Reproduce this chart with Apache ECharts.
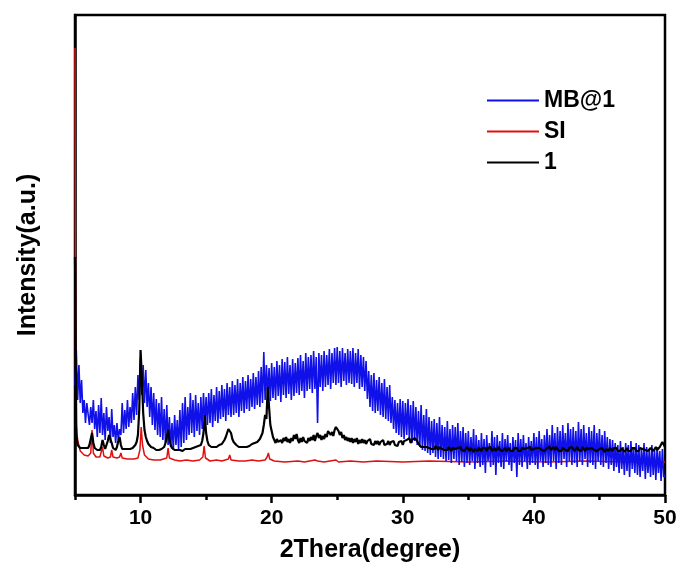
<!DOCTYPE html>
<html>
<head>
<meta charset="utf-8">
<script src="https://cdn.jsdelivr.net/npm/echarts@6/dist/echarts.min.js"></script>
<style>html,body{margin:0;padding:0;background:#fff}#c{width:681px;height:583px}</style>
</head>
<body>
<div id="c"></div>
<script>
// 2Theta sampling for MB@1 and 1: start 5.0, step 0.1 (deg)
const scanStart = 5.0;
const scanStep = 0.1;
const xTickLabels = [10, 20, 30, 40, 50];
const xMinorTicks = [5, 15, 25, 35, 45];
const seriesNames = ['MB@1', 'SI', '1'];

// MB@1 intensity (a.u.)
const mb1Y = [
110,145,95,130,92,115,82,95,72,92,
92,70,88,72,95,66,84,58,90,62,
97,60,82,55,88,64,78,52,86,58,
70,52,72,55,66,60,92,62,85,66,
95,68,88,72,102,75,108,80,120,95,
137,100,130,92,125,88,112,78,108,70,
102,65,96,60,92,58,98,55,86,52,
90,50,78,48,72,45,80,50,75,46,
85,48,92,52,98,55,88,60,102,62,
95,58,100,64,92,60,98,66,102,70,
98,70,102,72,106,68,100,74,108,72,
104,76,110,78,106,74,112,80,108,78,
114,80,110,82,116,78,112,84,118,82,
114,86,120,84,116,88,122,86,118,90,
124,88,128,92,143,95,130,98,127,94,
132,97,128,95,134,99,130,93,136,100,
133,97,138,101,130,95,136,99,132,102,
137,100,140,104,134,97,142,104,138,106,
140,102,144,106,138,72,142,108,140,104,
144,108,140,110,146,106,142,112,147,110,
148,112,144,108,147,114,142,110,146,112,
144,111,147,108,142,112,146,106,140,108,
138,104,134,96,124,88,120,84,122,82,
115,84,118,80,112,78,116,76,108,74,
110,72,98,66,95,62,92,60,96,58,
94,56,92,60,96,55,90,52,94,54,
88,50,84,48,90,45,80,44,86,42,
78,40,74,42,76,38,72,36,78,38,
70,36,68,34,74,35,66,32,70,36,
68,34,72,30,64,33,68,28,62,32,
64,30,58,34,66,26,60,32,55,28,
62,30,56,22,60,34,52,28,64,30,
58,20,60,32,54,28,62,26,56,34,
60,30,52,24,58,32,55,18,62,30,
56,28,60,34,52,26,58,30,54,32,
62,30,58,26,64,34,56,28,60,32,
66,30,60,28,70,34,62,26,68,32,
64,30,70,36,62,28,72,34,66,30,
68,32,64,28,73,34,66,30,70,36,
62,28,68,32,64,30,70,26,62,34,
66,30,60,28,64,32,58,26,56,30,
55,24,52,28,50,22,54,26,48,20,
52,24,50,18,54,26,48,22,52,20,
50,18,46,24,52,16,48,22,45,18,
50,20,46,15,48,22,44,14,46,18,
20
];

// "1" intensity (a.u.)
const c1Y = [
238,60,50,48,47,46,47,46,47,46,
47,50,56,62,52,47,46,45,46,45,
48,55,50,46,47,54,60,62,52,47,
46,45,48,54,58,50,46,45,46,45,
46,47,46,48,47,49,50,53,60,85,
145,118,82,65,58,54,51,50,48,47,
47,46,45,46,45,44,46,45,48,52,
58,65,56,50,47,46,45,44,45,44,
45,46,44,45,46,45,46,47,46,48,
47,46,48,47,49,48,50,54,62,80,
62,54,50,49,48,47,48,49,48,49,
50,49,51,52,55,58,62,66,68,62,
56,53,51,50,49,48,49,48,49,48,
49,48,50,49,50,51,50,52,51,53,
54,56,58,62,70,80,76,108,88,70,
64,58,55,52,56,53,51,55,52,57,
54,58,53,56,52,57,54,60,56,61,
55,52,57,53,58,54,56,52,57,54,
58,55,60,54,59,62,57,60,55,59,
56,61,58,64,66,60,63,59,65,68,
69,64,60,63,57,60,55,58,54,57,
53,57,52,56,53,57,51,55,52,56,
52,55,51,54,52,56,51,53,50,54,
51,54,50,53,51,55,50,52,51,54,
50,53,51,54,50,52,49,53,51,54,
50,54,52,55,53,57,52,55,53,57,
56,54,51,49,48,47,48,47,48,47,
47,49,46,48,46,49,47,45,48,46,
46,48,45,47,45,48,46,44,47,45,
46,44,47,45,48,45,47,44,46,48,
46,44,47,45,43,46,47,44,47,45,
44,47,45,47,44,47,45,48,44,46,
47,44,46,48,45,47,44,46,47,44,
45,47,44,46,44,47,45,47,44,46,
44,47,45,46,44,47,45,48,45,47,
46,44,47,45,47,48,45,47,44,46,
47,45,48,45,47,48,45,48,46,44,
46,44,47,48,45,47,44,47,45,48,
47,44,46,48,45,47,44,48,46,44,
47,45,46,44,47,48,45,47,44,46,
46,44,47,45,43,46,47,44,47,45,
44,47,45,47,44,46,44,47,45,43,
45,47,44,46,44,47,45,47,44,46,
44,47,45,46,48,45,47,44,46,47,
47,44,46,48,45,47,48,50,53,51,
48
];

// SI (simulated) 2Theta and intensity (a.u.)
const siX = [5.0,5.05,5.1,5.2,5.4,5.7,6.0,6.2,6.3,6.4,6.6,6.9,7.0,7.1,7.2,7.5,7.7,7.8,7.9,8.2,8.4,8.5,8.6,9.0,9.5,9.8,9.95,10.05,10.15,10.3,10.6,11.0,11.5,12.0,12.1,12.2,12.6,13.0,13.5,14.0,14.5,14.75,14.85,14.95,15.3,15.8,16.2,16.7,16.8,16.9,17.5,18.0,18.5,19.0,19.5,19.65,19.75,19.85,20.2,21.0,22.0,22.5,23.3,23.5,24.0,24.9,25.1,26.0,27.0,28.0,30.0,32.0,35.0,38.0,41.0,44.0,47.0,50.0];
const siY = [447,120,70,55,44,40,39,42,65,42,38,38,40,48,39,37,38,45,38,37,38,42,37,36,36,37,45,68,50,40,36,35,35,37,47,37,35,34,35,34,35,38,49,37,34,35,34,36,40,35,34,34,35,34,35,38,42,36,34,33,34,33,35,34,33,35,33,34,33,34,33,34,33,34,33,34,33,33];

const toPairs = ys => ys.map((v, i) => [+(scanStart + i * scanStep).toFixed(2), v]);
const mb1Data = toPairs(mb1Y);
const c1Data = toPairs(c1Y);
const siData = siX.map((x, i) => [x, siY[i]]);

const FONT = "'Liberation Sans', Arial, sans-serif";
const chart = echarts.init(document.getElementById('c'), null, {renderer: 'canvas'});
chart.setOption({
  animation: false,
  backgroundColor: '#ffffff',
  grid: {left: 75, right: 16, top: 15, bottom: 88, show: true, borderColor: '#000', borderWidth: 2.5, backgroundColor: 'transparent'},
  legend: {
    orient: 'vertical', left: 482, top: 84, itemGap: 8, itemWidth: 52, itemHeight: 2,
    icon: 'rect',
    data: seriesNames,
    textStyle: {fontFamily: FONT, fontWeight: 'bold', fontSize: 23, color: '#000'}
  },
  xAxis: [{
    type: 'value', min: 5, max: 50,
    name: '2Thera(degree)', nameLocation: 'middle', nameGap: 43,
    nameTextStyle: {fontFamily: FONT, fontWeight: 'bold', fontSize: 25, color: '#000'},
    axisLine: {show: true, onZero: false, lineStyle: {color: '#000', width: 2.5}},
    axisTick: {show: true, length: 8, lineStyle: {color: '#000', width: 2.5}, customValues: xTickLabels},
    axisLabel: {show: true, margin: 13, fontFamily: FONT, fontWeight: 'bold', fontSize: 21, color: '#000', customValues: xTickLabels},
    splitLine: {show: false}
  }, {
    type: 'value', min: 5, max: 50, position: 'bottom',
    axisLine: {show: false},
    axisTick: {show: true, length: 5, lineStyle: {color: '#000', width: 2.5}, customValues: xMinorTicks},
    axisLabel: {show: false},
    splitLine: {show: false}
  }],
  yAxis: {
    type: 'value', min: 0, max: 480,
    name: 'Intensity(a.u.)', nameLocation: 'middle', nameGap: 34,
    nameTextStyle: {fontFamily: FONT, fontWeight: 'bold', fontSize: 25, color: '#000'},
    axisLine: {show: true, onZero: false, lineStyle: {color: '#000', width: 2.5}},
    axisTick: {show: false}, axisLabel: {show: false}, splitLine: {show: false}
  },
  series: [
    {name: 'MB@1', type: 'line', data: mb1Data, symbol: 'none', z: 3, color: '#1010e8',
     lineStyle: {color: '#1010e8', width: 1.6}},
    {name: 'SI', type: 'line', data: siData, symbol: 'none', z: 2, color: '#e01010',
     lineStyle: {color: '#e01010', width: 1.5}},
    {name: '1', type: 'line', data: c1Data, symbol: 'none', z: 4, color: '#000',
     lineStyle: {color: '#000', width: 2.2}}
  ]
});
</script>
</body>
</html>
